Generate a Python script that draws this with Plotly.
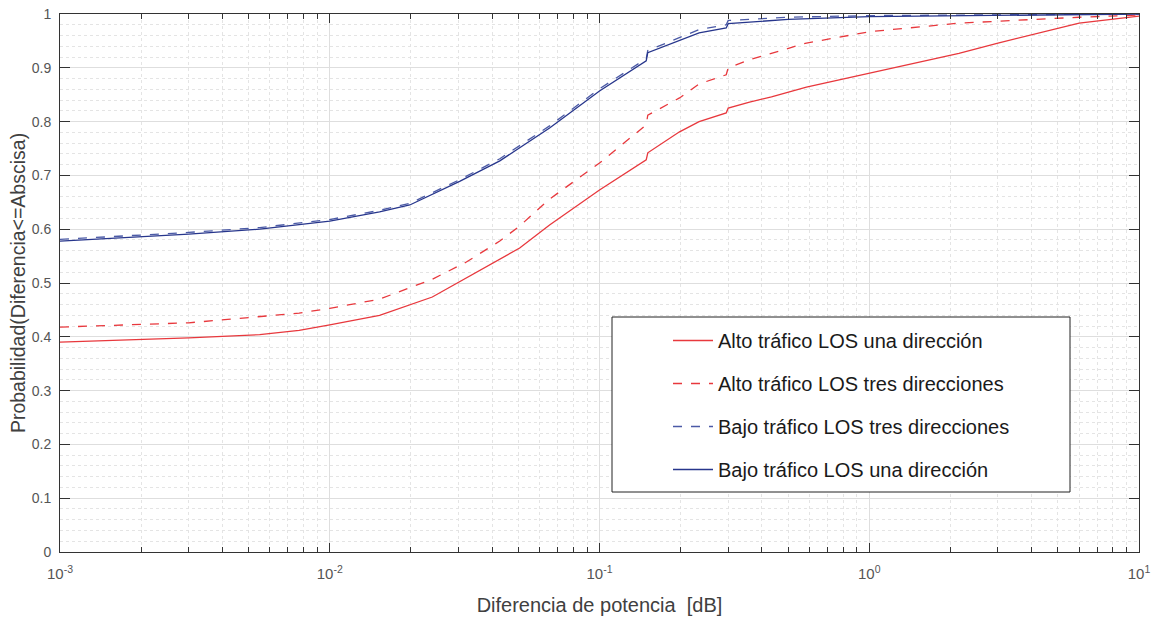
import plotly.graph_objects as go

# Data (x in dB, y = CDF probability)
x_alto_una = [0.001, 0.003, 0.0055, 0.0077, 0.01, 0.0153, 0.024, 0.0321, 0.0427, 0.0506, 0.0653, 0.1, 0.149, 0.151,
              0.198, 0.234, 0.295, 0.3, 0.36, 0.434, 0.585, 1.0, 2.15, 3.0, 6.0, 10.0]
y_alto_una = [0.390, 0.398, 0.404, 0.412, 0.422, 0.440, 0.474, 0.509, 0.544, 0.565, 0.608, 0.673, 0.729, 0.742,
              0.781, 0.800, 0.816, 0.825, 0.836, 0.846, 0.864, 0.890, 0.927, 0.946, 0.983, 0.996]

x_alto_tres = [0.001, 0.003, 0.0077, 0.01, 0.0153, 0.024, 0.0321, 0.0427, 0.0506, 0.0653, 0.1, 0.149, 0.151,
               0.198, 0.234, 0.295, 0.3, 0.36, 0.585, 1.0, 2.15, 3.0, 6.0, 10.0]
y_alto_tres = [0.418, 0.426, 0.444, 0.453, 0.470, 0.507, 0.539, 0.578, 0.606, 0.656, 0.723, 0.794, 0.812,
               0.844, 0.870, 0.887, 0.900, 0.915, 0.946, 0.967, 0.983, 0.987, 0.994, 0.998]

x_bajo_tres = [0.001, 0.003, 0.0055, 0.0077, 0.01, 0.0153, 0.0198, 0.0303, 0.0427, 0.0653, 0.1, 0.149, 0.151,
               0.234, 0.295, 0.3, 0.5, 1.0, 3.0, 10.0]
y_bajo_tres = [0.581, 0.594, 0.603, 0.612, 0.618, 0.635, 0.648, 0.692, 0.731, 0.792, 0.861, 0.917, 0.932,
               0.971, 0.980, 0.988, 0.994, 0.997, 0.999, 1.000]

x_bajo_una = [0.001, 0.003, 0.0055, 0.0077, 0.01, 0.0153, 0.0198, 0.0303, 0.0427, 0.0653, 0.1, 0.149, 0.151,
              0.234, 0.295, 0.3, 0.5, 1.0, 3.0, 10.0]
y_bajo_una = [0.578, 0.591, 0.600, 0.609, 0.615, 0.632, 0.645, 0.689, 0.727, 0.788, 0.857, 0.913, 0.928,
              0.965, 0.974, 0.982, 0.990, 0.995, 0.998, 1.000]

x_tickvals = [0.001, 0.01, 0.1, 1, 10]
x_ticktext = ["10<sup>-3</sup>", "10<sup>-2</sup>", "10<sup>-1</sup>", "10<sup>0</sup>", "10<sup>1</sup>"]
y_tickvals = [0, 0.1, 0.2, 0.3, 0.4, 0.5, 0.6, 0.7, 0.8, 0.9, 1]
y_ticktext = ["0", "0.1", "0.2", "0.3", "0.4", "0.5", "0.6", "0.7", "0.8", "0.9", "1"]

names = ["Alto tráfico LOS una dirección", "Alto tráfico LOS tres direcciones",
         "Bajo tráfico LOS tres direcciones", "Bajo tráfico LOS una dirección"]

RED = "#e8383d"
BLUE = "#27368c"
BLUE_D = "#4b5aa6"

fig = go.Figure()
series = [
    (x_alto_una, y_alto_una, RED, "solid"),
    (x_alto_tres, y_alto_tres, RED, "dash"),
    (x_bajo_tres, y_bajo_tres, BLUE_D, "dash"),
    (x_bajo_una, y_bajo_una, BLUE, "solid"),
]
for i, (xs, ys, c, d) in enumerate(series):
    fig.add_trace(go.Scatter(x=xs, y=ys, mode="lines", name=names[i],
                             legendgroup=f"g{i}",
                             line=dict(color=c, width=1.3, dash=d)))

minor_x = [m * 10 ** e for e in range(-3, 1) for m in range(2, 10)]

PW, PH = 1079, 538  # plot area size in px
PL, PT = 60, 14     # plot area top-left in the window

# legend frame (white box with black border)
fig.add_shape(type="rect", xref="paper", yref="paper",
              x0=(612 - PL) / PW, x1=(1070 - PL) / PW,
              y0=1 - (492 - PT) / PH, y1=1 - (317 - PT) / PH,
              line=dict(color="#222222", width=1), fillcolor="white", layer="above")

fig.update_layout(
    width=1158, height=617,
    margin=dict(l=60, r=19, t=14, b=65),
    paper_bgcolor="white", plot_bgcolor="white",
    font=dict(family="Liberation Sans, Arial, sans-serif", color="#404040"),
    showlegend=True,
    legend=dict(x=(668 - PL) / PW, y=1 - (321 - PT) / PH, xanchor="left", yanchor="top",
                borderwidth=0, bgcolor="rgba(0,0,0,0)",
                font=dict(size=20, color="#1a1a1a"),
                traceorder="grouped", tracegroupgap=14,
                itemwidth=40),
    xaxis=dict(type="log", range=[-3, 1], automargin=False,
               tickmode="array", tickvals=x_tickvals, ticktext=x_ticktext,
               ticks="inside", ticklen=9, tickcolor="#333", tickwidth=1,
               ticklabelstandoff=8, ticklabeloverflow="allow",
               showline=True, linecolor="#333", linewidth=1, mirror="allticks",
               showgrid=True, gridcolor="#dedede", gridwidth=1,
               tickfont=dict(size=15, color="#555"),
               title=dict(text="Diferencia de potencia  [dB]", font=dict(size=20, color="#404040"), standoff=16),
               minor=dict(tickmode="array", tickvals=minor_x, ticks="inside", ticklen=5,
                          tickcolor="#333", showgrid=True, gridcolor="#e4e4e4", griddash="dot"),
               zeroline=False),
    yaxis=dict(range=[0, 1], automargin=False,
               tickmode="array", tickvals=y_tickvals, ticktext=y_ticktext,
               ticks="inside", ticklen=10, tickcolor="#333", tickwidth=1,
               ticklabelstandoff=5, ticklabeloverflow="allow",
               showline=True, linecolor="#333", linewidth=1, mirror="allticks",
               showgrid=True, gridcolor="#dedede", gridwidth=1,
               tickfont=dict(size=14, color="#555"),
               title=dict(text="Probabilidad(Diferencia<=Abscisa)", font=dict(size=19.5, color="#404040"), standoff=0),
               minor=dict(dtick=0.02, ticks="", showgrid=True, gridcolor="#e4e4e4", griddash="dot"),
               zeroline=False),
)

# remove the browser's default 8px body margin so the figure sits at the window origin
fig.write_html("out.html", config={"displayModeBar": False},
               post_script="document.body.style.margin='0px';")
